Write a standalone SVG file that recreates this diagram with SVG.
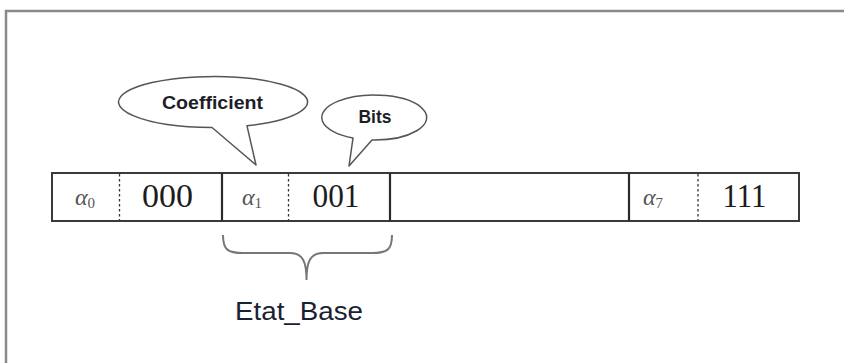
<svg xmlns="http://www.w3.org/2000/svg" width="844" height="363" viewBox="0 0 844 363">
<style>
.frame{fill:#fff;stroke:#8a8a8a;stroke-width:2.5}
.bar{fill:#fff;stroke:#3a3a3a;stroke-width:2}
.div{stroke:#2a2a2a;stroke-width:2.2}
.dash{stroke:#333;stroke-width:1.3;stroke-dasharray:2.5,2.5}
.num{font-family:"Liberation Serif",serif;font-size:33px;fill:#1c1c1c}
.alpha{font-family:"Liberation Serif",serif;font-style:italic;font-size:24px;fill:#555}
.sub{font-family:"Liberation Serif",serif;font-size:15px;fill:#555}
.call{fill:#fff;stroke:#555;stroke-width:1.5;stroke-linejoin:round}
.callt{font-family:"Liberation Sans",sans-serif;font-weight:bold;font-size:18px;fill:#1e1e28}
.brace{fill:none;stroke:#777;stroke-width:2}
.lbl{font-family:"Liberation Sans",sans-serif;font-size:26px;fill:#1a2232}
</style>
<rect width="844" height="363" fill="#fff"/>
<rect class="frame" x="6" y="11" width="900" height="400"/>
<g id="bar">
<rect class="bar" x="52" y="173" width="747" height="48"/>
<line class="div" x1="222" y1="173" x2="222" y2="221"/>
<line class="div" x1="390" y1="173" x2="390" y2="221"/>
<line class="div" x1="629" y1="173" x2="629" y2="221"/>
<line class="dash" x1="119.5" y1="174" x2="119.5" y2="220"/>
<line class="dash" x1="288.5" y1="174" x2="288.5" y2="220"/>
<line class="dash" x1="698" y1="174" x2="698" y2="220"/>
</g>
<g id="cell0">
<text class="alpha" x="75" y="205">α<tspan class="sub" font-style="normal" dy="3">0</tspan></text>
<text class="num" x="167.5" y="207" text-anchor="middle" textLength="51" lengthAdjust="spacingAndGlyphs">000</text>
</g>
<g id="cell1">
<text class="alpha" x="242" y="205">α<tspan class="sub" font-style="normal" dy="3">1</tspan></text>
<text class="num" x="336" y="207" text-anchor="middle" textLength="47" lengthAdjust="spacingAndGlyphs">001</text>
</g>
<g id="cell7">
<text class="alpha" x="643" y="205">α<tspan class="sub" font-style="normal" dy="3">7</tspan></text>
<text class="num" x="744.5" y="207" text-anchor="middle" textLength="44" lengthAdjust="spacingAndGlyphs">111</text>
</g>
<g id="coefficient">
<path class="call" d="M212,127.5 L256,165 L247,125.8 A94.5,25.5 0 1 0 212,127.5 Z"/>
<text class="callt" x="212.5" y="109" text-anchor="middle" textLength="101" lengthAdjust="spacingAndGlyphs">Coefficient</text>
</g>
<g id="bits">
<path class="call" d="M353,138.1 L349,166 L372,140 A52.5,22.5 0 1 0 353,138.1 Z"/>
<text class="callt" x="375" y="123" text-anchor="middle" textLength="33" lengthAdjust="spacingAndGlyphs">Bits</text>
</g>
<g id="connectors">
<path class="brace" d="M223,235 C223,250 228,253 243,253 L290,253 C303,253 306.5,262 306.5,280 C306.5,262 310,253 323,253 L372,253 C387,253 392,250 392,235"/>
</g>
<g id="etat_base">
<text class="lbl" x="235" y="320" textLength="128" lengthAdjust="spacingAndGlyphs">Etat_Base</text>
</g>
</svg>
